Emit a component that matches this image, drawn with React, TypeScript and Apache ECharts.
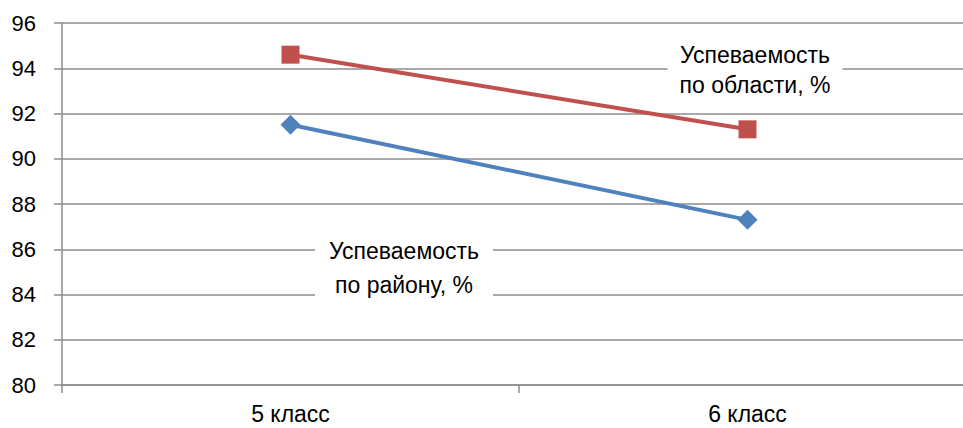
import React, { useEffect, useRef } from "react";
import * as echarts from "echarts";

const categories = ["5 класс", "6 класс"];
const districtValues = [91.5, 87.3];
const regionValues = [94.6, 91.3];
const districtLabel = "Успеваемость\nпо району, %";
const regionLabel = "Успеваемость\nпо области, %";

export default function App() {
  const ref = useRef<HTMLDivElement>(null);
  useEffect(() => {
    document.body.style.margin = "0";
    const chart = echarts.init(ref.current!, null, { renderer: "svg" });
    const font = "'Liberation Sans', Arial, sans-serif";
    chart.setOption({
      animation: false,
      grid: { left: 62, top: 23, bottom: 43, right: -13, outerBoundsMode: "none", containLabel: false },
      xAxis: {
        type: "category",
        data: categories,
        boundaryGap: true,
        axisLine: { lineStyle: { color: "#8c8c8c", width: 1.5 } },
        axisTick: { show: true, length: 8, lineStyle: { color: "#8c8c8c", width: 1.5 } },
        axisLabel: { color: "#000", fontSize: 23, fontFamily: font, margin: 17 },
      },
      yAxis: {
        type: "value",
        min: 80,
        max: 96,
        interval: 2,
        axisLine: { show: true, lineStyle: { color: "#8c8c8c", width: 1.5 } },
        axisTick: { show: true, length: 8, lineStyle: { color: "#8c8c8c", width: 1.5 } },
        splitLine: { lineStyle: { color: "#8c8c8c", width: 1.5 } },
        axisLabel: { color: "#000", fontSize: 22, fontFamily: font, margin: 26 },
      },
      series: [
        {
          name: "district",
          type: "line",
          data: districtValues,
          symbol: "diamond",
          symbolSize: 20,
          lineStyle: { color: "#4F81BD", width: 4 },
          itemStyle: { color: "#4F81BD" },
        },
        {
          name: "region",
          type: "line",
          data: regionValues,
          symbol: "rect",
          symbolSize: 18,
          lineStyle: { color: "#C0504D", width: 4 },
          itemStyle: { color: "#C0504D" },
        },
      ],
      graphic: [
        {
          type: "text",
          x: 755,
          y: 70,
          z: 100,
          style: {
            text: regionLabel,
            fontSize: 23,
            fontFamily: font,
            fill: "#000",
            align: "center",
            verticalAlign: "middle",
            lineHeight: 30,
            backgroundColor: "#fff",
            padding: [2, 12],
          },
        },
        {
          type: "text",
          x: 404,
          y: 268,
          z: 100,
          style: {
            text: districtLabel,
            fontSize: 23,
            fontFamily: font,
            fill: "#000",
            align: "center",
            verticalAlign: "middle",
            lineHeight: 34,
            backgroundColor: "#fff",
            padding: [2, 14],
          },
        },
      ],
    });
    return () => chart.dispose();
  }, []);
  return <div ref={ref} style={{ width: 963, height: 428 }} />;
}
